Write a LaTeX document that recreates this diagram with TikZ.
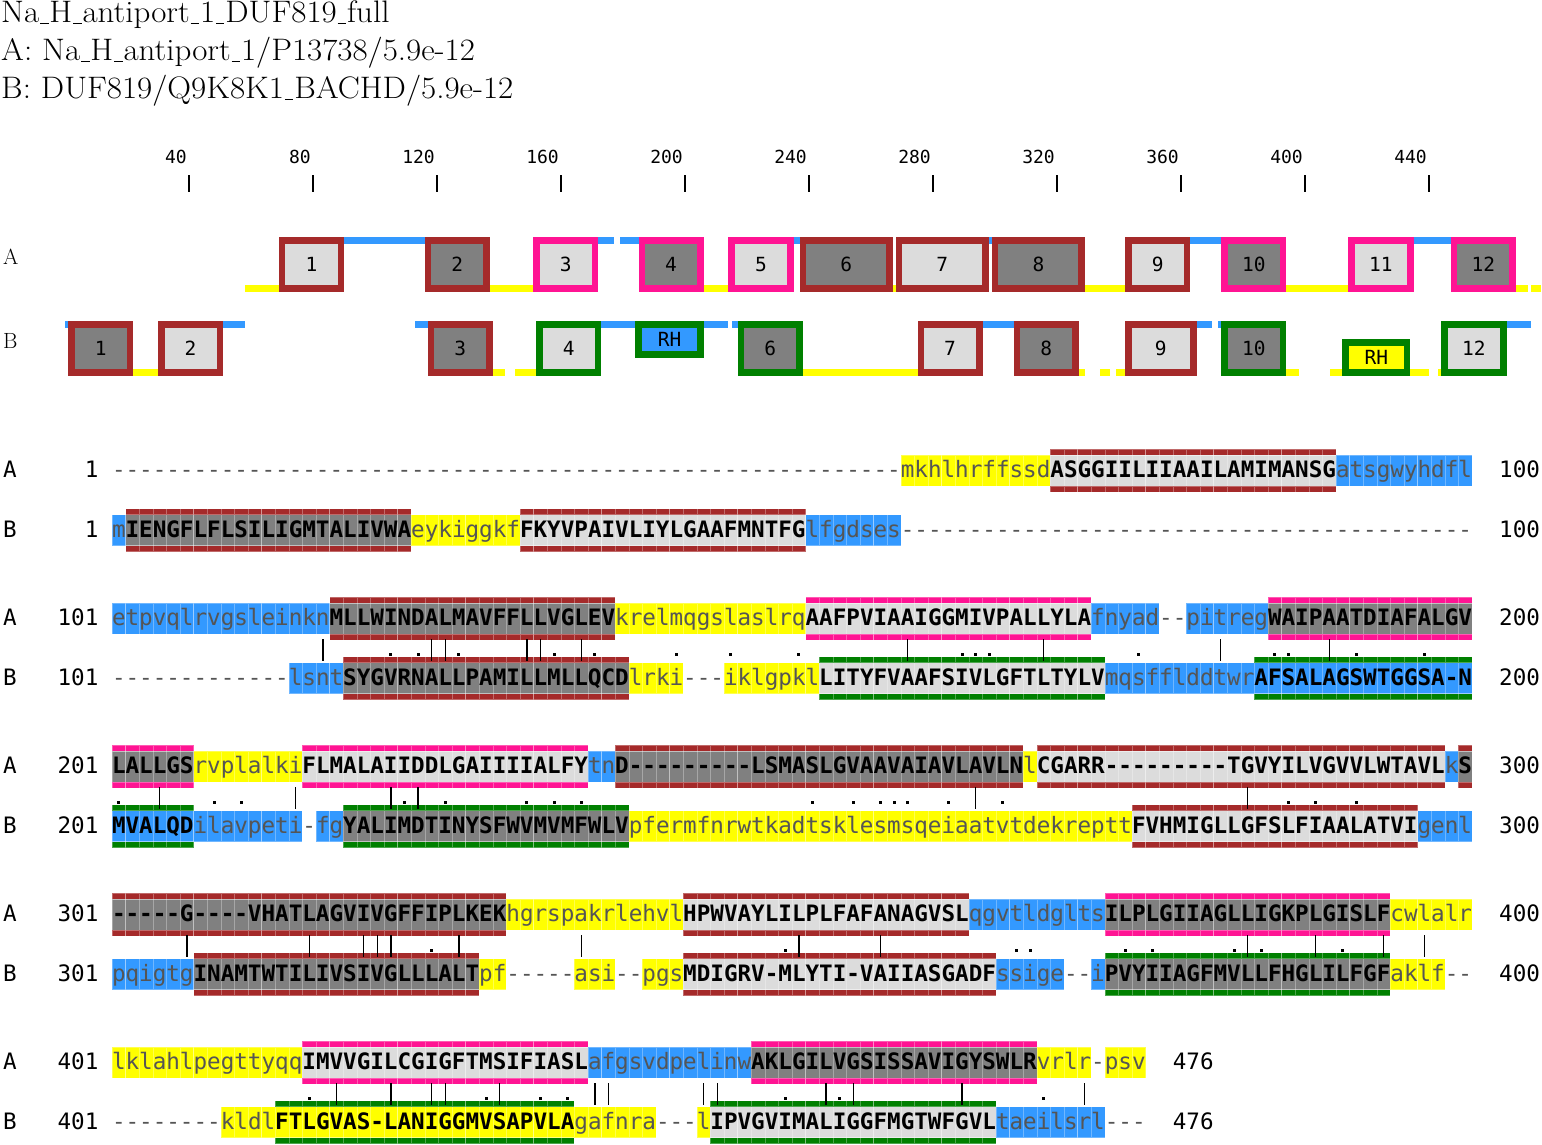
\documentclass[tikz,border=0pt]{standalone}
\usepackage{fontspec}
\newfontfamily\seqf[Ligatures=TeXOff]{DejaVu Sans Mono}
\newfontfamily\headf[FakeStretch=1.06]{Latin Modern Roman}
\definecolor{cBlue}{HTML}{3399FF}
\definecolor{cYel}{HTML}{FFFF00}
\definecolor{cBrown}{HTML}{A52A2A}
\definecolor{cPink}{HTML}{FF1493}
\definecolor{cGreen}{HTML}{008000}
\definecolor{cLight}{HTML}{DCDCDC}
\definecolor{cDark}{HTML}{808080}
\definecolor{cTxt}{HTML}{555555}
\ExplSyntaxOn
\NewDocumentCommand\Dsh{m}{\prg_replicate:nn{#1}{-}}
\ExplSyntaxOff
\newcommand\us{\kern.03em\rule[-0.07em]{0.27em}{0.045em}\kern.03em}
\tikzset{
 cellseam/.style={draw=white, draw opacity=0.3, line width=0.6pt},
 lo/.style={anchor=base west, inner sep=0pt, outer sep=0pt, font=\seqf\fontsize{22.59}{27}\selectfont, text=cTxt},
 up/.style={lo, font=\seqf\bfseries\fontsize{22.59}{27}\selectfont, text=black},
 num/.style={anchor=base west, inner sep=0pt, outer sep=0pt, font=\seqf\fontsize{22.59}{27}\selectfont, text=black},
 rulab/.style={anchor=base east, inner sep=0pt, font=\seqf\fontsize{18}{20}\selectfont, text=black},
 boxlab/.style={anchor=center, inner sep=0pt, font=\seqf\fontsize{19.5}{22}\selectfont, text=black},
 head/.style={anchor=base west, inner sep=0pt, font=\headf\fontsize{31.1}{34}\selectfont},
 rowlab/.style={anchor=base west, inner sep=0pt, font=\fontsize{22}{26}\selectfont},
}
% alignment helpers
\newcommand\HL[4]{%
  \foreach \i in {1,...,#3}{%
    \pgfmathsetmacro\xa{112+(#2+\i-2)*13.6}%
    \pgfmathsetmacro\xb{\xa+13.6}%
    \path[fill=#4,cellseam] (\xa,#1-15.5) rectangle (\xb,#1+15.5);
  }}
\newcommand\TMB[5]{%
  \HL{#1}{#2}{#3}{#5}%
  \foreach \i in {1,...,#3}{%
    \pgfmathsetmacro\xa{112+(#2+\i-2)*13.6}%
    \pgfmathsetmacro\xb{\xa+13.6}%
    \path[fill=#4,cellseam] (\xa,#1-21.5) rectangle (\xb,#1-15.5);
    \path[fill=#4,cellseam] (\xa,#1+15.5) rectangle (\xb,#1+21.5);
  }}
\newcommand\TX[5]{%
  \pgfmathsetmacro\xa{112+(#3-1)*13.6}%
  \node[#1] (#4) at (\xa,#2+7) {#5};}
\newcommand\SB[5]{\HL{#1}{#2}{#3}{cBlue}\TX{lo}{#1}{#2}{#4}{#5}}
\newcommand\SY[5]{\HL{#1}{#2}{#3}{cYel}\TX{lo}{#1}{#2}{#4}{#5}}
\newcommand\SG[4]{\TX{lo}{#1}{#2}{#3}{\Dsh{#4}}}
\newcommand\ST[7]{\TMB{#1}{#2}{#3}{#4}{#5}\TX{up}{#1}{#2}{#6}{#7}}
\newcommand\Lab[6]{%
  \node[num] (#6l) at (3.2,#1+7) {#2};
  \node[num,anchor=base east] (#6n) at (98.4,#1+7) {#3};
  \node[num] (#6e) at ({112+#5*13.6+27.2},#1+7) {#4};}
\newcommand\Marks[3]{%
  \foreach \c in {#2}{\pgfmathsetmacro\xc{112+(\c-0.5)*13.6}%
    \draw[line width=1.4pt] (\xc,#1+20.5) -- (\xc,#1+42.5);}
  \foreach \c in {#3}{\pgfmathsetmacro\xc{112+(\c-0.5)*13.6}%
    \fill (\xc-1.5,#1+34.5) rectangle (\xc+1.5,#1+37.5);}}
% domain helpers
\newcommand\DL[4]{\fill[#1] ({65+3.1*(#3-1)},#2) rectangle ({65+3.1*(#4)},#2+6.5);}
\newcommand\DB[8]{%
  \fill[#5] ({65+3.1*(#3-1)},#1) rectangle ({65+3.1*(#4)},#2);
  \fill[#6] ({65+3.1*(#3-1)+6.5},#1+6.5) rectangle ({65+3.1*(#4)-6.5},#2-6.5);
  \node[boxlab] (#7) at ({65+3.1*(#3-1)/2+3.1*(#4)/2},{(#1+#2)/2}) {#8};}

\begin{document}
\begin{tikzpicture}[x=1pt,y=-1pt]
\useasboundingbox (0,0) rectangle (1542,1144);
\fill[white] (0,0) rectangle (1542,1144);
% header
\node[head] (h1) at (1,22) {Na\us H\us antiport\us 1\us DUF819\us full};
\node[head] (h2) at (1,60) {A: Na\us H\us antiport\us 1/P13738/5.9e-12};
\node[head] (h3) at (1,98) {B: DUF819/Q9K8K1\us BACHD/5.9e-12};
% ruler
\foreach \p in {40,80,...,440}{%
  \pgfmathsetmacro\xt{65+3.1*\p}%
  \draw[line width=1.4pt] (\xt,175) -- (\xt,192);
  \node[rulab] (r\p) at (\xt-2,163.5) {\p};}
% domain rows
\node[rowlab] (dla) at (3,264) {A};
\node[rowlab] (dlb) at (3,348) {B};
\foreach \s/\e in {59/69,138/151,207/214,268/268,330/342,395/414,469/472,474/476} {\DL{cYel}{285}{\s}{\e}}
\foreach \s/\e in {91/116,173/177,180/185,236/237,299/299,364/373,436/447} {\DL{cBlue}{237}{\s}{\e}}
\foreach \s/\e/\bc/\fc/\lb in {70/90/cBrown/cLight/1,117/137/cBrown/cDark/2,152/172/cPink/cLight/3,186/206/cPink/cDark/4,215/235/cPink/cLight/5,238/267/cBrown/cDark/6,269/298/cBrown/cLight/7,300/329/cBrown/cDark/8,343/363/cBrown/cLight/9,374/394/cPink/cDark/10,415/435/cPink/cLight/11,448/468/cPink/cDark/12}
  {\DB{237}{291.5}{\s}{\e}{\bc}{\fc}{da\lb}{\lb}}
\foreach \s/\e in {1/1,52/58,114/117,174/184,207/214,216/217,297/306,366/370,373/373,466/473} {\DL{cBlue}{321}{\s}{\e}}
\foreach \s/\e in {23/30,139/142,146/152,239/275,328/329,335/337,340/342,395/398,409/412,435/440,444/444} {\DL{cYel}{369}{\s}{\e}}
\foreach \s/\e/\bc/\fc/\lb in {2/22/cBrown/cDark/1,31/51/cBrown/cLight/2,118/138/cBrown/cDark/3,153/173/cGreen/cLight/4,218/238/cGreen/cDark/6,276/296/cBrown/cLight/7,307/327/cBrown/cDark/8,343/365/cBrown/cLight/9,374/394/cGreen/cDark/10,445/465/cGreen/cLight/12}
  {\DB{321}{375.5}{\s}{\e}{\bc}{\fc}{db\lb}{\lb}}
\DB{321}{357.5}{185}{206}{cGreen}{cBlue}{dbrh1}{RH}
\DB{339}{375.5}{413}{434}{cGreen}{cYel}{dbrh2}{RH}
% ---- line 1
\Lab{470.5}{A}{1}{100}{100}{la1}
\Lab{530}{B}{1}{100}{100}{lb1}
\SG{470.5}{1}{a1g}{58}
\SY{470.5}{59}{11}{a1y}{mkhlhrffssd}
\ST{470.5}{70}{21}{cBrown}{cLight}{a1t}{ASGGIILIIAAILAMIMANSG}
\SB{470.5}{91}{10}{a1b}{atsgwyhdfl}
\SB{530}{1}{1}{b1b}{m}
\ST{530}{2}{21}{cBrown}{cDark}{b1t}{IENGFLFLSILIGMTALIVWA}
\SY{530}{23}{8}{b1y}{eykiggkf}
\ST{530}{31}{21}{cBrown}{cLight}{b1u}{FKYVPAIVLIYLGAAFMNTFG}
\SB{530}{52}{7}{b1c}{lfgdses}
\SG{530}{59}{b1g}{42}
% ---- line 2
\Lab{618.5}{A}{101}{200}{100}{la2}
\Lab{678}{B}{101}{200}{100}{lb2}
\SB{618.5}{1}{16}{a2a}{etpvqlrvgsleinkn}
\ST{618.5}{17}{21}{cBrown}{cDark}{a2b}{MLLWINDALMAVFFLLVGLEV}
\SY{618.5}{38}{14}{a2c}{krelmqgslaslrq}
\ST{618.5}{52}{21}{cPink}{cLight}{a2d}{AAFPVIAAIGGMIVPALLYLA}
\SB{618.5}{73}{5}{a2e}{fnyad}
\SG{618.5}{78}{a2f}{2}
\SB{618.5}{80}{6}{a2g}{pitreg}
\ST{618.5}{86}{15}{cPink}{cDark}{a2h}{WAIPAATDIAFALGV}
\SG{678}{1}{b2a}{13}
\SB{678}{14}{4}{b2b}{lsnt}
\ST{678}{18}{21}{cBrown}{cDark}{b2c}{SYGVRNALLPAMILLMLLQCD}
\SY{678}{39}{4}{b2d}{lrki}
\SG{678}{43}{b2e}{3}
\SY{678}{46}{7}{b2f}{iklgpkl}
\ST{678}{53}{21}{cGreen}{cLight}{b2g}{LITYFVAAFSIVLGFTLTYLV}
\SB{678}{74}{11}{b2h}{mqsfflddtwr}
\ST{678}{85}{16}{cGreen}{cBlue}{b2i}{AFSALAGSWTGGSA-N}
\Marks{618.5}{16,24,25,31,32,35,59,69,82,90}{21,23,26,33,36,42,46,51,63,64,65,76,86,87,92,97}
% ---- line 3
\Lab{766.5}{A}{201}{300}{100}{la3}
\Lab{826}{B}{201}{300}{100}{lb3}
\ST{766.5}{1}{6}{cPink}{cDark}{a3a}{LALLGS}
\SY{766.5}{7}{8}{a3b}{rvplalki}
\ST{766.5}{15}{21}{cPink}{cLight}{a3c}{FLMALAIIDDLGAIIIIALFY}
\SB{766.5}{36}{2}{a3d}{tn}
\ST{766.5}{38}{30}{cBrown}{cDark}{a3e}{D\Dsh{9}LSMASLGVAAVAIAVLAVLN}
\SY{766.5}{68}{1}{a3f}{l}
\ST{766.5}{69}{30}{cBrown}{cLight}{a3g}{CGARR\Dsh{9}TGVYILVGVVLWTAVL}
\SB{766.5}{99}{1}{a3h}{k}
\ST{766.5}{100}{1}{cBrown}{cDark}{a3i}{S}
\ST{826}{1}{6}{cGreen}{cBlue}{b3a}{MVALQD}
\SB{826}{7}{8}{b3b}{ilavpeti}
\SG{826}{15}{b3c}{1}
\SB{826}{16}{2}{b3d}{fg}
\ST{826}{18}{21}{cGreen}{cDark}{b3e}{YALIMDTINYSFWVMVMFWLV}
\SY{826}{39}{37}{b3f}{pfermfnrwtkadtsklesmsqeiaatvtdekreptt}
\ST{826}{76}{21}{cBrown}{cLight}{b3g}{FVHMIGLLGFSLFIAALATVI}
\SB{826}{97}{4}{b3h}{genl}
\Marks{766.5}{4,14,21,23,64,84}{1,8,10,22,25,31,33,35,52,55,57,58,59,62,66,87,89,92}
% ---- line 4
\Lab{914.5}{A}{301}{400}{100}{la4}
\Lab{974}{B}{301}{400}{100}{lb4}
\ST{914.5}{1}{29}{cBrown}{cDark}{a4a}{\Dsh{5}G\Dsh{4}VHATLAGVIVGFFIPLKEK}
\SY{914.5}{30}{13}{a4b}{hgrspakrlehvl}
\ST{914.5}{43}{21}{cBrown}{cLight}{a4c}{HPWVAYLILPLFAFANAGVSL}
\SB{914.5}{64}{10}{a4d}{qgvtldglts}
\ST{914.5}{74}{21}{cPink}{cDark}{a4e}{ILPLGIIAGLLIGKPLGISLF}
\SY{914.5}{95}{6}{a4f}{cwlalr}
\SB{974}{1}{6}{b4a}{pqigtg}
\ST{974}{7}{21}{cBrown}{cDark}{b4b}{INAMTWTILIVSIVGLLLALT}
\SY{974}{28}{2}{b4c}{pf}
\SG{974}{30}{b4d}{5}
\SY{974}{35}{3}{b4e}{asi}
\SG{974}{38}{b4f}{2}
\SY{974}{40}{3}{b4g}{pgs}
\ST{974}{43}{23}{cBrown}{cLight}{b4h}{MDIGRV-MLYTI-VAIIASGADF}
\SB{974}{66}{5}{b4i}{ssige}
\SG{974}{71}{b4j}{2}
\SB{974}{73}{1}{b4k}{i}
\ST{974}{74}{21}{cGreen}{cDark}{b4l}{PVYIIAGFMVLLFHGLILFGF}
\SY{974}{95}{4}{b4m}{aklf}
\SG{974}{99}{b4n}{2}
\Marks{914.5}{6,15,19,20,21,26,35,51,57,84,89,94,97}{24,50,67,68,75,77,83,85,91}
% ---- line 5
\Lab{1062.5}{A}{401}{476}{76}{la5}
\Lab{1122}{B}{401}{476}{76}{lb5}
\SY{1062.5}{1}{14}{a5a}{lklahlpegttyqq}
\ST{1062.5}{15}{21}{cPink}{cLight}{a5b}{IMVVGILCGIGFTMSIFIASL}
\SB{1062.5}{36}{12}{a5c}{afgsvdpelinw}
\ST{1062.5}{48}{21}{cPink}{cDark}{a5d}{AKLGILVGSISSAVIGYSWLR}
\SY{1062.5}{69}{4}{a5e}{vrlr}
\SG{1062.5}{73}{a5f}{1}
\SY{1062.5}{74}{3}{a5g}{psv}
\SG{1122}{1}{b5a}{8}
\SY{1122}{9}{4}{b5b}{kldl}
\ST{1122}{13}{22}{cGreen}{cYel}{b5c}{FTLGVAS-LANIGGMVSAPVLA}
\SY{1122}{35}{6}{b5d}{gafnra}
\SG{1122}{41}{b5e}{3}
\SY{1122}{44}{1}{b5f}{l}
\ST{1122}{45}{21}{cGreen}{cLight}{b5g}{IPVGVIMALIGGFMGTWFGVL}
\SB{1122}{66}{8}{b5h}{taeilsrl}
\SG{1122}{74}{b5i}{3}
\Marks{1062.5}{17,21,24,25,29,36,37,44,45,53,55,63,72}{15,28,32,34,50,54,69}
\end{tikzpicture}
\end{document}
